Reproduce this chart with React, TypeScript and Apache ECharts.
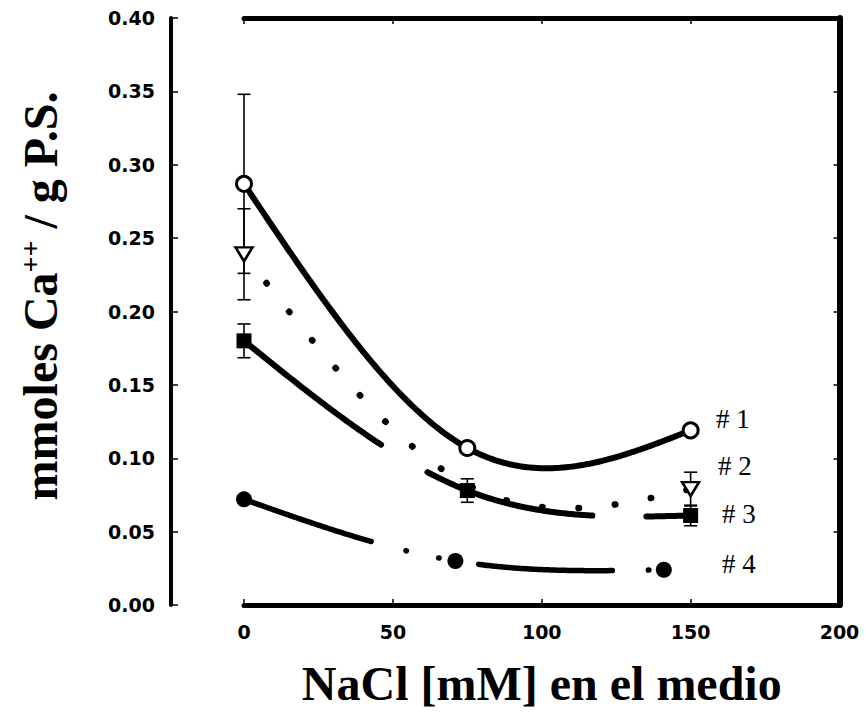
import React, { useEffect, useRef } from "react";
import * as echarts from "echarts";

// ---- data ----
const naclLevels = [0, 75, 150];
const serie1 = [0.287, 0.107, 0.119];
const serie1Err = [0.061, 0, 0];
const serie2 = [0.239, 0.082, 0.079];
const serie2Err = [0.031, 0, 0.0115];
const serie2Hidden = [false, true, false];
const serie3 = [0.18, 0.078, 0.061];
const serie3Err = [0.0115, 0.008, 0.007];
const naclLevels4 = [0, 71, 141];
const serie4 = [0.072, 0.03, 0.024];
const seriesLabels = ["# 1", "# 2", "# 3", "# 4"];
const xAxisTitle = "NaCl [mM] en el medio";
const yAxisTitleMain = "mmoles Ca";
const yAxisTitleSup = "++";
const yAxisTitleEnd = " / g P.S.";

const TICK_FONT = "'DejaVu Sans', sans-serif";
const SERIF = "'Liberation Serif', 'Times New Roman', serif";

function pairs(xs: number[], ys: number[]) {
  return xs.map((x, i) => [x, ys[i]]);
}

function errRows(xs: number[], ys: number[], es: number[]) {
  const rows: number[][] = [];
  xs.forEach((x, i) => {
    if (es[i] > 0) rows.push([x, ys[i] - es[i], ys[i] + es[i]]);
  });
  return rows;
}

// natural cubic spline through the data points (rendering only)
function naturalSpline(xs: number[], ys: number[]) {
  const n = xs.length;
  const h: number[] = [];
  for (let i = 0; i < n - 1; i++) h.push(xs[i + 1] - xs[i]);
  const M = new Array(n).fill(0);
  if (n > 2) {
    const m = n - 2;
    const a = new Array(m).fill(0);
    const b = new Array(m).fill(0);
    const c = new Array(m).fill(0);
    const d = new Array(m).fill(0);
    for (let k = 0; k < m; k++) {
      const i = k + 1;
      a[k] = h[i - 1];
      b[k] = 2 * (h[i - 1] + h[i]);
      c[k] = h[i];
      d[k] = 6 * ((ys[i + 1] - ys[i]) / h[i] - (ys[i] - ys[i - 1]) / h[i - 1]);
    }
    for (let k = 1; k < m; k++) {
      const w = a[k] / b[k - 1];
      b[k] -= w * c[k - 1];
      d[k] -= w * d[k - 1];
    }
    const sol = new Array(m).fill(0);
    sol[m - 1] = d[m - 1] / b[m - 1];
    for (let k = m - 2; k >= 0; k--) sol[k] = (d[k] - c[k] * sol[k + 1]) / b[k];
    for (let k = 0; k < m; k++) M[k + 1] = sol[k];
  }
  return (x: number) => {
    let i = 0;
    while (i < n - 2 && x > xs[i + 1]) i++;
    const x0 = xs[i], x1 = xs[i + 1], hh = h[i];
    const A = x1 - x, B = x - x0;
    return (
      (M[i] * A * A * A) / (6 * hh) +
      (M[i + 1] * B * B * B) / (6 * hh) +
      (ys[i] / hh - (M[i] * hh) / 6) * A +
      (ys[i + 1] / hh - (M[i + 1] * hh) / 6) * B
    );
  };
}

function curveSeries(xs: number[], ys: number[], width: number, dash: number[] | null, z: number) {
  const f = naturalSpline(xs, ys);
  return {
    type: "custom",
    xAxisIndex: 0,
    yAxisIndex: 0,
    z,
    silent: true,
    encode: { x: 0, y: 1 },
    data: pairs(xs, ys),
    renderItem: (params: any, api: any) => {
      if (params.dataIndex !== 0) return null;
      const x0 = xs[0];
      const x1 = xs[xs.length - 1];
      const steps = 240;
      const pts: number[][] = [];
      for (let k = 0; k <= steps; k++) {
        const x = x0 + ((x1 - x0) * k) / steps;
        pts.push(api.coord([x, f(x)]));
      }
      const style: any = { stroke: "#000", lineWidth: width, fill: "none", lineCap: "round", lineJoin: "round" };
      if (dash) style.lineDash = dash;
      return { type: "polyline", shape: { points: pts }, style };
    },
  };
}

export default function App() {
  const ref = useRef<HTMLDivElement>(null);

  useEffect(() => {
    if (!ref.current) return;
    const chart = echarts.init(ref.current, undefined, { renderer: "svg" });

    const errorData = [
      ...errRows(naclLevels, serie1, serie1Err),
      ...errRows(naclLevels, serie2, serie2Err),
      ...errRows(naclLevels, serie3, serie3Err),
    ];

    const axisLineStyle = (w: number) => ({ show: true, onZero: false, lineStyle: { color: "#000", width: w } });
    const tick = (len: number) => ({ show: true, inside: true, length: len, lineStyle: { color: "#000", width: 1.5 } });

    const option: any = {
      animation: false,
      backgroundColor: "#fff",
      grid: { left: 244, right: 26.5, top: 18, bottom: 106, containLabel: false },
      xAxis: [
        {
          type: "value",
          position: "bottom",
          min: 0,
          max: 200,
          interval: 50,
          axisLine: axisLineStyle(5),
          axisTick: tick(6),
          splitLine: { show: false },
          axisLabel: { margin: 17, color: "#000", fontFamily: TICK_FONT, fontWeight: "bold", fontSize: 19 },
          name: xAxisTitle,
          nameLocation: "middle",
          nameGap: 54,
          nameTextStyle: { fontFamily: SERIF, fontWeight: "bold", fontSize: 48, color: "#000" },
        },
        {
          type: "value",
          position: "top",
          min: 0,
          max: 200,
          interval: 50,
          axisLine: axisLineStyle(5),
          axisTick: tick(6),
          axisLabel: { show: false },
          splitLine: { show: false },
        },
      ],
      yAxis: [
        {
          type: "value",
          position: "left",
          offset: 73,
          min: 0,
          max: 0.4,
          interval: 0.05,
          axisLine: axisLineStyle(4),
          axisTick: tick(7),
          splitLine: { show: false },
          axisLabel: {
            margin: 16,
            color: "#000",
            fontFamily: TICK_FONT,
            fontWeight: "bold",
            fontSize: 19,
            formatter: (v: number) => v.toFixed(2),
          },
        },
        {
          type: "value",
          position: "right",
          min: 0,
          max: 0.4,
          interval: 0.05,
          axisLine: axisLineStyle(6),
          axisTick: tick(6),
          axisLabel: { show: false },
          splitLine: { show: false },
        },
      ],
      series: [
        {
          type: "custom",
          name: "error",
          xAxisIndex: 0,
          yAxisIndex: 0,
          z: 1,
          silent: true,
          encode: { x: 0, y: [1, 2] },
          data: errorData,
          renderItem: (_params: any, api: any) => {
            const x = api.value(0);
            const lo = api.coord([x, api.value(1)]);
            const hi = api.coord([x, api.value(2)]);
            const w = 6.5;
            const style = { stroke: "#000", lineWidth: 1.6 };
            return {
              type: "group",
              children: [
                { type: "line", shape: { x1: lo[0], y1: lo[1], x2: hi[0], y2: hi[1] }, style },
                { type: "line", shape: { x1: lo[0] - w, y1: lo[1], x2: lo[0] + w, y2: lo[1] }, style },
                { type: "line", shape: { x1: hi[0] - w, y1: hi[1], x2: hi[0] + w, y2: hi[1] }, style },
              ],
            };
          },
        },
        curveSeries(naclLevels, serie1, 6, null, 2),
        curveSeries(naclLevels, serie3, 6, [172, 54], 2),
        curveSeries(naclLevels4, serie4, 5.5, [134, 36, 0.5, 33, 0.5, 40], 2),
        curveSeries(naclLevels, serie2, 6.5, [0.5, 36], 3),
        {
          type: "scatter",
          name: seriesLabels[1],
          z: 4,
          data: pairs(naclLevels, serie2).filter((_p, i) => !serie2Hidden[i]),
          symbol: "triangle",
          symbolRotate: 180,
          symbolSize: [17, 14],
          itemStyle: { color: "#fff", borderColor: "#000", borderWidth: 2.5, opacity: 1 },
        },
        {
          type: "scatter",
          name: seriesLabels[0],
          z: 4,
          data: pairs(naclLevels, serie1),
          symbol: "circle",
          symbolSize: 15,
          itemStyle: { color: "#fff", borderColor: "#000", borderWidth: 3, opacity: 1 },
        },
        {
          type: "scatter",
          name: seriesLabels[2],
          z: 4,
          data: pairs(naclLevels, serie3),
          symbol: "rect",
          symbolSize: 15,
          itemStyle: { color: "#000", opacity: 1 },
        },
        {
          type: "scatter",
          name: seriesLabels[3],
          z: 4,
          data: pairs(naclLevels4, serie4),
          symbol: "circle",
          symbolSize: 16,
          itemStyle: { color: "#000", opacity: 1 },
        },
      ],
      graphic: [
        {
          type: "text",
          x: 40,
          y: 296,
          rotation: Math.PI / 2,
          style: {
            text: yAxisTitleMain + "{sup|" + yAxisTitleSup + "}" + yAxisTitleEnd,
            font: "bold 48px " + SERIF,
            fill: "#000",
            align: "center",
            verticalAlign: "middle",
            rich: {
              sup: { font: "bold 28px " + SERIF, fill: "#000", verticalAlign: "top" },
            },
          },
        },
        ...[
          [716, 418.5],
          [718, 465.5],
          [722, 514],
          [722, 564],
        ].map((pos, i) => ({
          type: "text",
          x: pos[0],
          y: pos[1],
          style: {
            text: seriesLabels[i],
            font: "27px " + SERIF,
            fill: "#000",
            align: "left",
            verticalAlign: "middle",
          },
        })),
      ],
    };

    chart.setOption(option);
    return () => chart.dispose();
  }, []);

  return (
    <div
      ref={ref}
      style={{ position: "fixed", left: 0, top: 0, width: 866, height: 712, background: "#fff" }}
    />
  );
}
